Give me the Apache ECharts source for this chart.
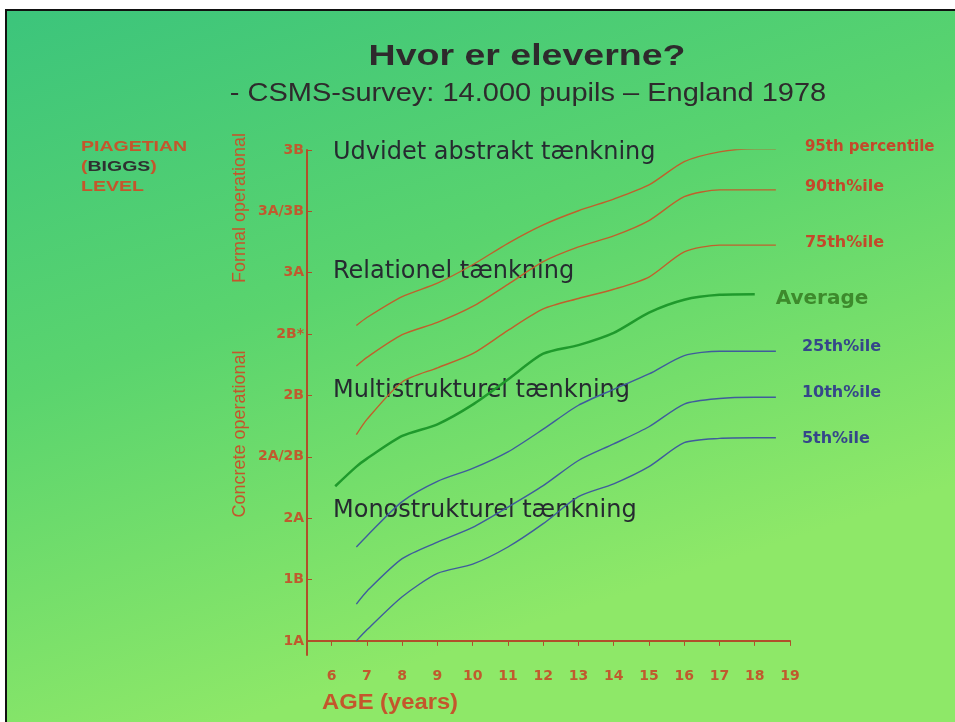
<!DOCTYPE html>
<html>
<head>
<meta charset="utf-8">
<script src="https://cdn.jsdelivr.net/npm/echarts@6/dist/echarts.min.js"></script>
<style>
  html, body { margin: 0; padding: 0; background: #fff; }
  #chart { width: 955px; height: 722px; }
</style>
</head>
<body>
<div id="chart"></div>
<script>
// ages (x) shared by all curves, null = curve not drawn there
const ages = [6.1, 6.7, 7, 8, 9, 10, 11, 12, 13, 14, 15, 16, 17, 18, 18.6];
const p95 = [null, 5.14, 5.27, 5.61, 5.83, 6.13, 6.48, 6.78, 7.01, 7.20, 7.43, 7.81, 7.97, 8.02, 8.02];
const p90 = [null, 4.48, 4.62, 4.99, 5.19, 5.45, 5.81, 6.18, 6.42, 6.60, 6.85, 7.24, 7.35, 7.35, 7.35];
const p75 = [null, 3.36, 3.61, 4.22, 4.45, 4.68, 5.06, 5.41, 5.58, 5.73, 5.93, 6.34, 6.45, 6.45, 6.45];
const avg = [2.52, 2.84, 2.97, 3.34, 3.53, 3.85, 4.26, 4.68, 4.82, 5.02, 5.35, 5.56, 5.64, 5.65, null];
const p25 = [null, 1.53, 1.71, 2.27, 2.60, 2.81, 3.08, 3.45, 3.84, 4.10, 4.35, 4.65, 4.72, 4.72, 4.72];
const p10 = [null, 0.60, 0.81, 1.34, 1.61, 1.85, 2.18, 2.53, 2.94, 3.21, 3.49, 3.86, 3.95, 3.97, 3.97];
const p05 = [null, 0.00, 0.18, 0.72, 1.10, 1.25, 1.53, 1.91, 2.35, 2.56, 2.84, 3.23, 3.30, 3.31, 3.31];

const levels = ['1A', '1B', '2A', '2A/2B', '2B', '2B*', '3A', '3A/3B', '3B'];
const levelTicks = [0, 1, 2, 3, 4, 5, 6, 7, 8];
const ageTicks = [6, 7, 8, 9, 10, 11, 12, 13, 14, 15, 16, 17, 18, 19];

const orange = '#c0602c';
const labelRed = '#c4482a';
const blue = '#3f5c9c';
const labelBlue = '#35468a';
const axisCol = '#b0502a';

const pairs = vals => ages.map((a, i) => [a, vals[i]]).filter(d => d[1] != null);

function curve(name, vals, color, width, lbl) {
  return {
    name: name, type: 'line', data: pairs(vals),
    showSymbol: false, smooth: 0.25,
    lineStyle: { color: color, width: width },
    endLabel: Object.assign({
      show: true, formatter: '{a}',
      fontFamily: 'DejaVu Sans', fontWeight: 'bold', fontSize: 15
    }, lbl),
    silent: true
  };
}

const chart = echarts.init(document.getElementById('chart'));

const handText = (t, x, y) => ({
  type: 'text', x: x, y: y,
  style: { text: t, fill: '#262a30', font: '24px "DejaVu Sans"', verticalAlign: 'middle' }
});

chart.setOption({
  backgroundColor: new echarts.graphic.LinearGradient(0, 0, 0.25, 1, [
    { offset: 0, color: '#3bc47c' },
    { offset: 0.5, color: '#5ad46e' },
    { offset: 1, color: '#8ee868' }
  ]),
  animation: false,
  grid: { left: 307, right: 165, top: 150, bottom: 67 },
  xAxis: {
    type: 'value', min: 5.3, max: 19,
    axisLine: { lineStyle: { color: axisCol, width: 2 } },
    axisTick: { customValues: ageTicks, length: 5, lineStyle: { color: axisCol } },
    axisLabel: {
      customValues: ageTicks, margin: 14, color: '#c05a2e',
      fontFamily: 'DejaVu Sans', fontWeight: 'bold', fontSize: 14
    },
    splitLine: { show: false }
  },
  yAxis: {
    type: 'value', min: -0.23, max: 8,
    axisLine: { show: true, lineStyle: { color: axisCol, width: 2 } },
    axisTick: { show: true, inside: true, customValues: levelTicks, length: 5, lineStyle: { color: axisCol } },
    axisLabel: {
      customValues: levelTicks, margin: 3, color: '#c05a2e',
      fontFamily: 'DejaVu Sans', fontWeight: 'bold', fontSize: 14,
      formatter: v => levels[Math.round(v)]
    },
    splitLine: { show: false }
  },
  series: [
    curve('95th percentile', p95, orange, 1.4, { color: labelRed, distance: 29, offset: [0, -2] }),
    curve('90th%ile', p90, orange, 1.4, { color: labelRed, distance: 29, offset: [0, -3], fontSize: 16 }),
    curve('75th%ile', p75, orange, 1.4, { color: labelRed, distance: 29, offset: [0, -2], fontSize: 16 }),
    curve('Average', avg, '#1f9a2c', 2.5, { color: '#3d8a2c', distance: 21, offset: [0, 5], fontSize: 20 }),
    curve('25th%ile', p25, blue, 1.4, { color: labelBlue, distance: 26, offset: [0, -4], fontSize: 16 }),
    curve('10th%ile', p10, blue, 1.4, { color: labelBlue, distance: 26, offset: [0, -4], fontSize: 16 }),
    curve('5th%ile', p05, blue, 1.4, { color: labelBlue, distance: 26, offset: [0, 1], fontSize: 16 })
  ],
  graphic: [
    { type: 'rect', shape: { x: 0, y: 0, width: 955, height: 9 }, style: { fill: '#fff' }, z: 100 },
    { type: 'rect', shape: { x: 0, y: 0, width: 5, height: 722 }, style: { fill: '#fff' }, z: 100 },
    { type: 'rect', shape: { x: 5, y: 9, width: 950, height: 2 }, style: { fill: '#111' }, z: 100 },
    { type: 'rect', shape: { x: 5, y: 9, width: 2, height: 713 }, style: { fill: '#111' }, z: 100 },
    {
      type: 'text', x: 527, y: 57, scaleX: 1.25,
      style: { text: 'Hvor er eleverne?', fill: '#2e2a2c', font: 'bold 30px "Liberation Sans"', align: 'center', verticalAlign: 'middle' }
    },
    {
      type: 'text', x: 528, y: 94, scaleX: 1.16,
      style: { text: '- CSMS-survey: 14.000 pupils \u2013 England 1978', fill: '#2e2a2c', font: '25px "Liberation Sans"', align: 'center', verticalAlign: 'middle' }
    },
    {
      type: 'text', x: 81, y: 137, scaleX: 1.3,
      style: {
        text: '{o|PIAGETIAN}\n{o|(}{d|BIGGS}{o|)}\n{o|LEVEL}',
        rich: {
          o: { fill: '#c4562c', font: 'bold 15px "Liberation Sans"', lineHeight: 20 },
          d: { fill: '#2e3030', font: 'bold 15px "Liberation Sans"', lineHeight: 20 }
        }
      }
    },
    {
      type: 'text', x: 240, y: 208, rotation: Math.PI / 2,
      style: { text: 'Formal operational', fill: '#c4562c', font: '18px "Liberation Sans"', align: 'center', verticalAlign: 'middle' }
    },
    {
      type: 'text', x: 240, y: 434, rotation: Math.PI / 2,
      style: { text: 'Concrete operational', fill: '#c4562c', font: '18px "Liberation Sans"', align: 'center', verticalAlign: 'middle' }
    },
    {
      type: 'text', x: 322, y: 703, scaleX: 1.08,
      style: { text: 'AGE (years)', fill: '#c4562c', font: 'bold 22px "Liberation Sans"', verticalAlign: 'middle' }
    },
    handText('Udvidet abstrakt t\u00e6nkning', 333, 153),
    handText('Relationel t\u00e6nkning', 333, 272),
    handText('Multistrukturel t\u00e6nkning', 333, 391),
    handText('Monostrukturel t\u00e6nkning', 333, 511)
  ]
});
</script>
</body>
</html>
